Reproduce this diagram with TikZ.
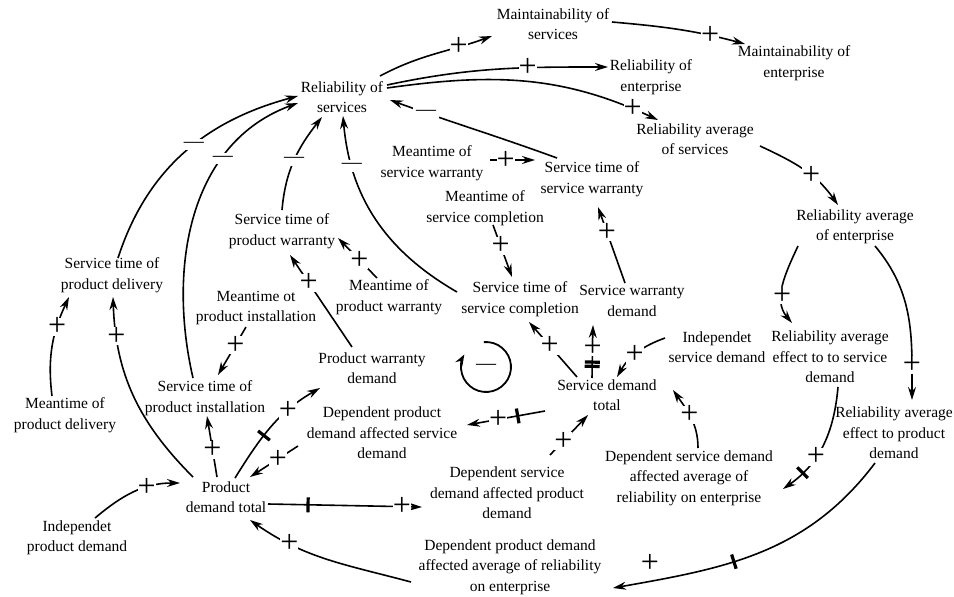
\documentclass[tikz,border=0pt]{standalone}
\usepackage{fontspec}
\setmainfont{Liberation Serif}
\usetikzlibrary{arrows.meta}
\begin{document}
\begin{tikzpicture}[x=1pt,y=1pt,
 var/.style={align=center,font=\fontsize{15.5}{20.5}\selectfont,inner sep=1pt},
 link/.style={-{Stealth[length=13pt,width=8pt]},line width=1.6pt},
 pol/.style={fill=white,inner sep=0pt,font=\fontsize{32}{32}\selectfont},
 neg/.style={fill=white,inner sep=3pt,font=\fontsize{20}{20}\selectfont},
 delaybar/.style={sloped,fill=black,minimum width=3.2pt,minimum height=15pt,inner sep=0pt}]
\useasboundingbox (0,-597) rectangle (954,0);
% variables
\node[var] (rs) at (342,-97) {Reliability of\\services};
\node[var] (ms) at (553,-24) {Maintainability of\\services};
\node[var] (me) at (794,-63) {Maintainability of\\enterprise};
\node[var] (re) at (651,-77) {Reliability of\\enterprise};
\node[var] (ras) at (695,-139) {Reliability average\\of services};
\node[var] (mtsw) at (432,-163) {Meantime of\\service warranty};
\node[var] (stsw) at (592,-179) {Service time of\\service warranty};
\node[var] (mtsc) at (485,-208) {Meantime of\\service completion};
\node[var] (rae) at (855,-227) {Reliability average\\of enterprise};
\node[var] (stpw) at (282,-231) {Service time of\\product warranty};
\node[var] (stpd) at (112,-275) {Service time of\\product delivery};
\node[var] (mtpi) at (256,-308) {Meantime ot\\product installation};
\node[var] (mtpw) at (389,-297) {Meantime of\\product warranty};
\node[var] (stsc) at (520,-299) {Service time of\\service completion};
\node[var] (swd) at (632,-301) {Service warranty\\demand};
\node[var] (pwd) at (372,-368) {Product warranty\\demand};
\node[var] (isd) at (717,-347) {Independet\\service demand};
\node[var] (raesd) at (830,-357) {Reliability average\\effect to to service\\demand};
\node[var] (sdt) at (607,-395) {Service demand\\total};
\node[var] (stpi) at (205,-398) {Service time of\\product installation};
\node[var] (mtpd) at (65,-415) {Meantime of\\product delivery};
\node[var] (dpdsd) at (382,-433) {Dependent product\\demand affected service\\demand};
\node[var] (raepd) at (894,-433) {Reliability average\\effect to product\\demand};
\node[var] (pdt) at (226,-497) {Product\\demand total};
\node[var] (dsdpd) at (507,-493) {Dependent service\\demand affected product\\demand};
\node[var] (dsdare) at (689,-478) {Dependent service demand\\affected average of\\reliability on enterprise};
\node[var] (ipd) at (77,-538) {Independet\\product demand};
\node[var] (dpdare) at (510,-567) {Dependent product demand\\affected average of reliability\\on enterprise};
% links
\draw[link] ([shift={(38,21)}]rs.center) to[out=28,in=200] node[pol,pos=0.72](s1){+} ([shift={(-61,-12)}]ms.center);
\draw[link] ([shift={(59,2)}]ms.center) to[out=-5,in=165] node[pol,pos=0.75](s2){+} ([shift={(-49,19)}]me.center);
\draw[link] ([shift={(45,12)}]rs.center) to[out=12,in=180] node[pol,pos=0.65](s3){+} ([shift={(-43,10)}]re.center);
\draw[link] ([shift={(45,9)}]rs.center) to[out=8,in=155] node[pol,pos=0.91](s4){+} ([shift={(-37,19)}]ras.center);
\draw[link] ([shift={(-35,21)}]stsw.center) to[out=160,in=-20] node[neg,pos=0.8](s5){—} ([shift={(48,-3)}]rs.center);
\draw[link] ([shift={(58,3)}]mtsw.center) -- node[pol,pos=0.35](s6){+} ([shift={(-57,19)}]stsw.center);
\draw[link] ([shift={(65,-7)}]ras.center) to[out=-25,in=125] node[pol,pos=0.6](s7){+} ([shift={(-17,22)}]rae.center);
\draw[link] ([shift={(-57,-19)}]rae.center) to[out=-115,in=130] node[pol,pos=0.62](s8){+} ([shift={(-38,34)}]raesd.center);
\draw[link] ([shift={(20,-19)}]rae.center) to[out=-50,in=90] node[pol,pos=0.8](s9){+} ([shift={(18,33)}]raepd.center);
\draw[link] ([shift={(8,-30)}]raesd.center) to[out=-95,in=35] node[pol,pos=0.62](s10){+} node[delaybar,pos=0.8](d10){} ([shift={(94,-11)}]dsdare.center);
\draw[link] ([shift={(-19,-30)}]raepd.center) to[out=-127,in=10] node[delaybar,pos=0.6](d11){} ([shift={(103,-21)}]dpdare.center);
\node[pol,fill=none] (s11) at (650,-563) {+};
\draw[link] ([shift={(-99,-15)}]dpdare.center) to[out=165,in=-35] node[pol,pos=0.75](s12){+} ([shift={(24,-23)}]pdt.center);
\draw[link] ([shift={(9,30)}]dsdare.center) to[out=90,in=-55] node[pol,pos=0.55](s13){+} ([shift={(66,5)}]sdt.center);
\draw[link] ([shift={(-52,9)}]isd.center) to[out=-160,in=60] node[pol,pos=0.55](s14){+} ([shift={(10,18)}]sdt.center);
\draw[link] ([shift={(-15,17)}]sdt.center) -- node[delaybar,pos=0.22](d15a){} node[delaybar,pos=0.3](d15b){} node[pol,pos=0.58](s15){+} ([shift={(-39,-24)}]swd.center);
\draw[link] ([shift={(-30,18)}]sdt.center) -- node[pol,pos=0.57](s16){+} ([shift={(9,-23)}]stsc.center);
\draw[link] ([shift={(-7,18)}]swd.center) -- node[pol,pos=0.67](s17){+} ([shift={(6,-28)}]stsw.center);
\draw[link] ([shift={(8,-17)}]mtsc.center) -- node[pol,pos=0.4](s18){+} ([shift={(-8,22)}]stsc.center);
\draw[link] ([shift={(-63,7)}]stsc.center) to[out=150,in=-85] node[neg,pos=0.78](s19){—} ([shift={(1,-19)}]rs.center);
\draw[link] ([shift={(0,21)}]stpw.center) to[out=85,in=-128] node[neg,pos=0.5](s20){—} ([shift={(-20,-20)}]rs.center);
\draw[link] ([shift={(-12,19)}]mtpw.center) -- node[pol,pos=0.45](s21){+} ([shift={(56,-7)}]stpw.center);
\draw[link] ([shift={(-20,21)}]pwd.center) -- node[pol,pos=0.7](s22){+} ([shift={(8,-24)}]stpw.center);
\draw[link] ([shift={(6,17)}]stpd.center) to[out=72,in=195] node[neg,pos=0.55](s23){—} ([shift={(-44,1)}]rs.center);
\draw[link] ([shift={(-12,20)}]stpi.center) to[out=103,in=200] node[neg,pos=0.7](s24){—} ([shift={(-44,-6)}]rs.center);
\draw[link] ([shift={(-13,19)}]mtpd.center) to[out=97,in=-115] node[pol,pos=0.7](s25){+} ([shift={(-43,-22)}]stpd.center);
\draw[link] ([shift={(-33,20)}]pdt.center) to[out=135,in=-88] node[pol,pos=0.82](s26){+} ([shift={(1,-22)}]stpd.center);
\draw[link] ([shift={(-10,-19)}]mtpi.center) -- node[pol,pos=0.38](s27){+} ([shift={(13,23)}]stpi.center);
\draw[link] ([shift={(-9,20)}]pdt.center) -- node[pol,pos=0.45](s28){+} ([shift={(2,-18)}]stpi.center);
\draw[link] ([shift={(9,19)}]pdt.center) to[out=58,in=-150] node[delaybar,pos=0.4](d29){} node[pol,pos=0.7](s29){+} ([shift={(-52,-20)}]pwd.center);
\draw[link] ([shift={(-84,-13)}]dpdsd.center) -- node[pol,pos=0.42](s30){+} ([shift={(24,20)}]pdt.center);
\draw[link] ([shift={(-62,-16)}]sdt.center) -- node[delaybar,pos=0.35](d31){} node[pol,pos=0.6](s31){+} ([shift={(85,8)}]dpdsd.center);
\draw[link] ([shift={(43,38)}]dsdpd.center) -- node[pol,pos=0.35](s32){+} ([shift={(-19,-20)}]sdt.center);
\draw[link] ([shift={(42,-7)}]pdt.center) -- node[delaybar,pos=0.26](d33){} node[pol,pos=0.87](s33){+} ([shift={(-85,-14)}]dsdpd.center);
\draw[link] ([shift={(18,20)}]ipd.center) to[out=40,in=180] node[pol,pos=0.65](s34){+} ([shift={(-46,14)}]pdt.center);
% loop symbol
\coordinate (loopc) at (486,-367);
\draw[line width=1.8pt,-{Stealth[length=11pt,width=8pt]}] (loopc) ++(95:25) arc[start angle=95,end angle=-210,radius=25];
\node[inner sep=0pt,font=\fontsize{20}{20}\selectfont] (loopsign) at (loopc) {—};
\end{tikzpicture}
\end{document}
